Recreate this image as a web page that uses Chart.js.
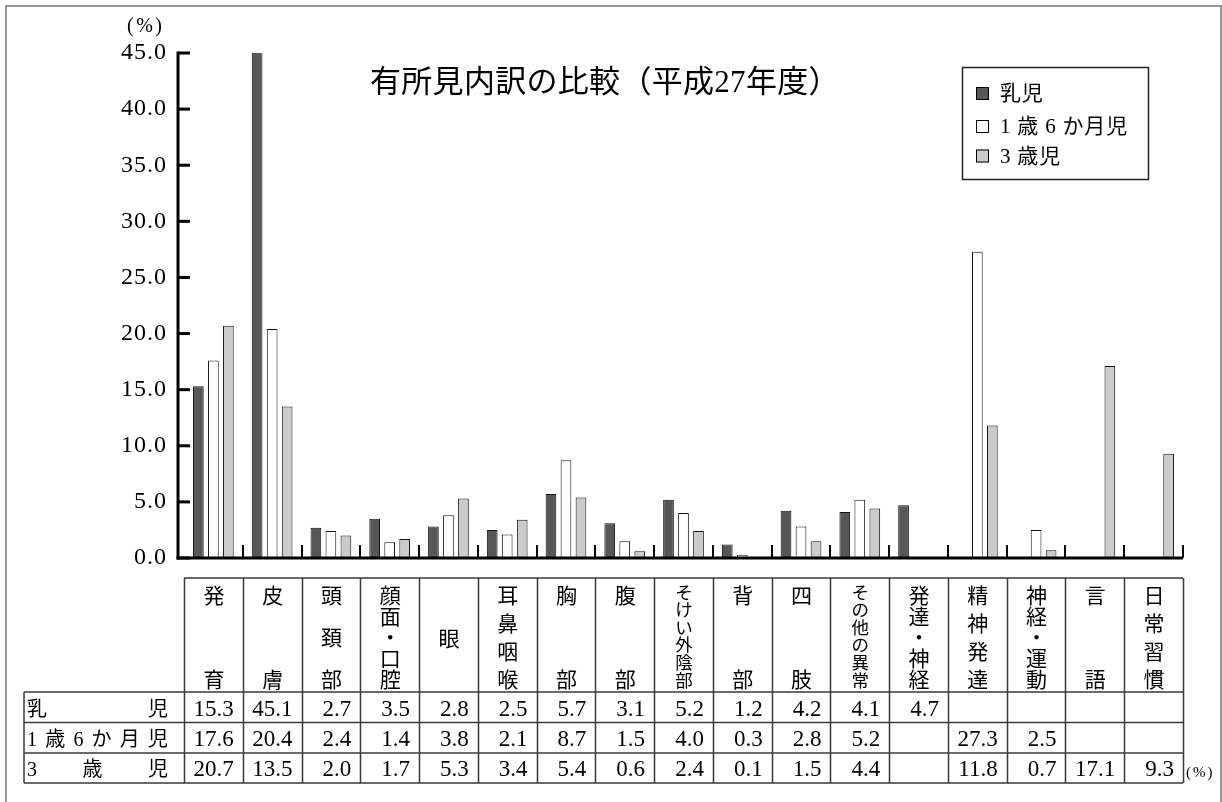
<!DOCTYPE html>
<html lang="ja">
<head>
<meta charset="utf-8">
<title>有所見内訳の比較（平成27年度）</title>
<script src="https://cdn.jsdelivr.net/npm/chart.js@4.4.1/dist/chart.umd.min.js"></script>
<style>
  html, body { margin: 0; padding: 0; background: #fff; }
  #wrap { width: 1222px; height: 802px; }
  canvas { display: block; }
</style>
</head>
<body>
<div id="wrap"><canvas id="chart" width="1222" height="802"></canvas></div>
<script>
// ---- data ----
const categories = ['発育', '皮膚', '頭頚部', '顔面・口腔', '眼', '耳鼻咽喉', '胸部', '腹部',
  'そけい外陰部', '背部', '四肢', 'その他の異常', '発達・神経', '精神発達', '神経・運動', '言語', '日常習慣'];
const seriesNames = ['乳児', '1歳6か月児', '3歳児'];
const infants    = [15.3, 45.1, 2.7, 3.5, 2.8, 2.5, 5.7, 3.1, 5.2, 1.2, 4.2, 4.1, 4.7, null, null, null, null];
const toddlers   = [17.6, 20.4, 2.4, 1.4, 3.8, 2.1, 8.7, 1.5, 4.0, 0.3, 2.8, 5.2, null, 27.3, 2.5, null, null];
const threeYears = [20.7, 13.5, 2.0, 1.7, 5.3, 3.4, 5.4, 0.6, 2.4, 0.1, 1.5, 4.4, null, 11.8, 0.7, 17.1, 9.3];
const yMin = 0, yMax = 45, yStep = 5;
const chartTitle = '有所見内訳の比較（平成27年度）';
const unitText = '(%)';

// ---- fonts ----
const MIX = "'Liberation Serif', 'Noto Sans CJK JP', serif";
const CJK = "'Noto Sans CJK JP', sans-serif";
const TICK_SPACING = 1;

// ---- layout of the data table under the plot ----
const TABLE_TOP = 578;
const ROW_LINES = [692, 722.5, 753, 783];
const ROW_BASE = [716, 746, 776];
const LABEL_LEFT = 24;

function drawJustified(c, text, x0, x1, base) {
  const chars = [...text];
  const widths = chars.map(ch => c.measureText(ch).width);
  const total = widths.reduce((a, b) => a + b, 0);
  const gap = chars.length > 1 ? (x1 - x0 - total) / (chars.length - 1) : 0;
  let x = x0;
  c.textAlign = 'left';
  chars.forEach((ch, i) => { c.fillText(ch, x, base); x += widths[i] + gap; });
}

function drawVertical(c, text, cx) {
  const chars = [...text];
  const n = chars.length;
  const size = n >= 6 ? 17.5 : 21;
  const top = n >= 6 ? 592 : 595;
  const bottom = n >= 6 ? 680 : 679;
  c.font = size + 'px ' + CJK;
  c.textAlign = 'center';
  c.textBaseline = 'middle';
  if (n === 1) { c.fillText(chars[0], cx, (top + bottom) / 2 + 1); return; }
  const step = (bottom - top) / (n - 1);
  chars.forEach((ch, i) => c.fillText(ch, cx, top + step * i));
}

const sheetPlugin = {
  id: 'sheet',
  beforeDraw(chart) {
    const c = chart.ctx;
    c.save();
    c.fillStyle = '#fff';
    c.fillRect(0, 0, chart.width, chart.height);
    c.restore();
    // spaced digits for the value axis labels
    c.letterSpacing = TICK_SPACING + 'px';
  },
  beforeDatasetsDraw(chart) {
    chart.ctx.letterSpacing = '0px';
  },
  afterDatasetsDraw(chart) {
    const c = chart.ctx;
    const xs = chart.scales.x, ys = chart.scales.y;
    const n = categories.length;
    const catW = xs.getPixelForValue(1) - xs.getPixelForValue(0);
    const edge = i => xs.getPixelForValue(i) - catW / 2;
    const y0 = ys.getPixelForValue(yMin);
    const yTop = ys.getPixelForValue(yMax);
    const axisX = chart.chartArea.left - 6;

    c.save();
    c.letterSpacing = '0px';
    c.strokeStyle = '#000';
    c.lineCap = 'butt';

    // value axis with inward tick marks
    c.lineWidth = 3;
    c.beginPath();
    c.moveTo(axisX, yTop - 1.5);
    c.lineTo(axisX, y0 + 1.5);
    c.stroke();
    ys.ticks.forEach(t => {
      const py = ys.getPixelForValue(t.value);
      c.beginPath();
      c.moveTo(axisX, py);
      c.lineTo(axisX + 12, py);
      c.stroke();
    });
    // category axis
    c.beginPath();
    c.moveTo(axisX - 1.5, y0);
    c.lineTo(edge(n), y0);
    c.stroke();
    c.lineWidth = 2;
    for (let i = 1; i <= n; i++) {
      const px = Math.round(edge(i));
      c.beginPath();
      c.moveTo(px, y0);
      c.lineTo(px, y0 - 13);
      c.stroke();
    }

    // title
    c.fillStyle = '#000';
    c.font = '31px ' + MIX;
    c.textAlign = 'left';
    c.textBaseline = 'alphabetic';
    c.letterSpacing = '0.3px';
    c.fillText(chartTitle, 370, 92);

    // unit labels
    c.font = '20px ' + MIX;
    c.letterSpacing = '2.5px';
    c.fillText(unitText, 127, 32);
    c.font = '15px ' + MIX;
    c.letterSpacing = '2px';
    c.fillText(unitText, 1186, 777);
    c.letterSpacing = '0px';

    // legend
    c.strokeStyle = '#222';
    c.lineWidth = 1.5;
    c.strokeRect(962.5, 67.5, 186, 112);
    const legendY = [93.5, 126.5, 156];
    chart.data.datasets.forEach((ds, i) => {
      const cy = legendY[i];
      c.fillStyle = ds.backgroundColor;
      c.fillRect(976, cy - 6.5, 13, 13);
      c.strokeStyle = '#000';
      c.lineWidth = 1;
      c.strokeRect(976.5, cy - 6, 12, 12);
      c.fillStyle = '#000';
      c.font = '21px ' + MIX;
      c.textAlign = 'left';
      c.textBaseline = 'middle';
      c.letterSpacing = '0.8px';
      c.fillText(ds.label.replace(/(\d)/g, ' $1 ').trim(), 1000, cy + 1);
      c.letterSpacing = '0px';
    });

    // data table grid
    c.strokeStyle = '#3a3a3a';
    c.lineWidth = 1.5;
    c.beginPath();
    c.moveTo(edge(0), TABLE_TOP);
    c.lineTo(edge(n), TABLE_TOP);
    ROW_LINES.forEach(ry => { c.moveTo(LABEL_LEFT, ry); c.lineTo(edge(n), ry); });
    c.moveTo(LABEL_LEFT, ROW_LINES[0]);
    c.lineTo(LABEL_LEFT, ROW_LINES[ROW_LINES.length - 1]);
    for (let i = 0; i <= n; i++) {
      const px = Math.round(edge(i)) + 0.5;
      c.moveTo(px, TABLE_TOP);
      c.lineTo(px, ROW_LINES[ROW_LINES.length - 1]);
    }
    c.stroke();

    // header: category names written top to bottom
    c.fillStyle = '#000';
    categories.forEach((name, i) => drawVertical(c, name, xs.getPixelForValue(i) + 0.5));

    // rows: series names and values
    c.textBaseline = 'alphabetic';
    chart.data.datasets.forEach((ds, r) => {
      c.font = '20px ' + MIX;
      drawJustified(c, ds.label, 27, 168, ROW_BASE[r]);
      c.font = '23px ' + MIX;
      c.textAlign = 'right';
      ds.data.forEach((v, i) => {
        if (v === null) return;
        c.fillText(v.toFixed(1), edge(i + 1) - 9, ROW_BASE[r]);
      });
    });

    // outer frame
    c.strokeStyle = '#777';
    c.lineWidth = 1.5;
    c.beginPath();
    c.moveTo(6, 802);
    c.lineTo(6, 6);
    c.lineTo(1221, 6);
    c.lineTo(1221, 802);
    c.stroke();
    c.restore();
  }
};

const barStyle = { borderColor: '#111', borderWidth: 1, categoryPercentage: 0.766, barPercentage: 0.713 };

new Chart(document.getElementById('chart'), {
  type: 'bar',
  data: {
    labels: categories,
    datasets: [
      Object.assign({ label: seriesNames[0], data: infants, backgroundColor: '#575757' }, barStyle),
      Object.assign({ label: seriesNames[1], data: toddlers, backgroundColor: '#ffffff' }, barStyle),
      Object.assign({ label: seriesNames[2], data: threeYears, backgroundColor: '#cbcbcb' }, barStyle)
    ]
  },
  options: {
    responsive: false,
    animation: false,
    devicePixelRatio: 1,
    layout: { padding: { left: 0, right: 39, top: 53, bottom: 244 } },
    plugins: { legend: { display: false }, title: { display: false }, tooltip: { enabled: false } },
    scales: {
      x: { display: false, afterFit: s => { s.height = 0; } },
      y: {
        min: yMin,
        max: yMax,
        grid: { display: false, drawTicks: false },
        border: { display: false },
        ticks: {
          stepSize: yStep,
          padding: 18 - TICK_SPACING,
          color: '#000',
          font: { family: MIX, size: 24 },
          callback: v => Number(v).toFixed(1)
        },
        afterFit: s => { s.width = 184; }
      }
    }
  },
  plugins: [sheetPlugin]
});
</script>
</body>
</html>
